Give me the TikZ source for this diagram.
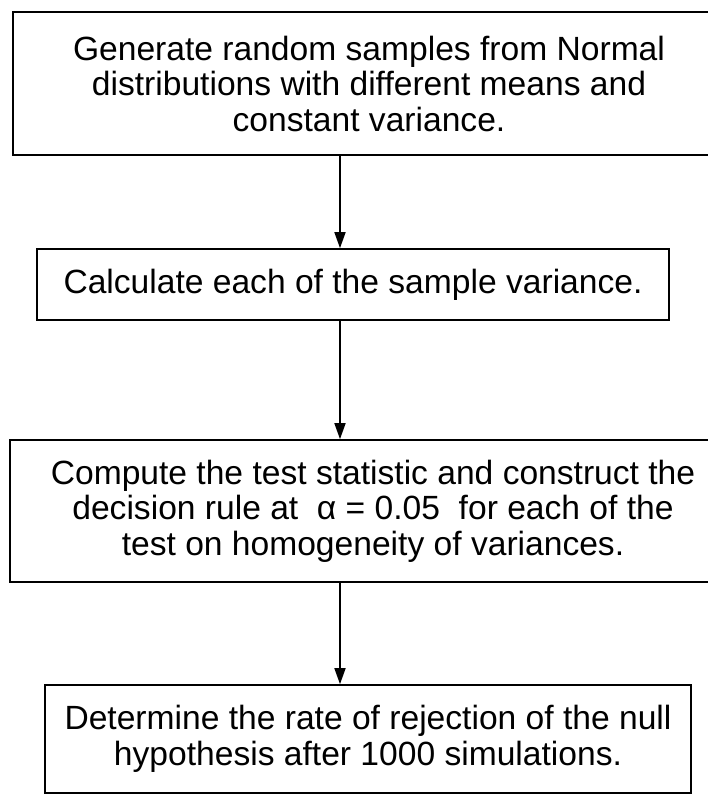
\documentclass[tikz,border=0pt]{standalone}
\usepackage{fontspec}
\setmainfont{Liberation Sans}
\usetikzlibrary{arrows.meta}
\begin{document}
\begin{tikzpicture}[x=1pt,y=1pt,
  stepbox/.style={draw=black, line width=1.6pt, rectangle, align=center, inner sep=0pt,
    font=\fontsize{33.6}{35.5}\selectfont},
  flow/.style={draw=black, line width=1.6pt, -{Triangle[length=16pt,width=11pt]}}]
\useasboundingbox (0,0) rectangle (708,796);
\node[stepbox, minimum width=712pt, minimum height=143pt] (b1) at (369,712.5)
  {Generate random samples from Normal\\distributions with different means and\\constant variance.};
\node[stepbox, minimum width=632pt, minimum height=71pt] (b2) at (353,511.5)
  {Calculate each of the sample variance.};
\node[stepbox, minimum width=726pt, minimum height=142pt] (b3) at (373,285)
  {Compute the test statistic and construct the\\decision rule at \ α = 0.05 \ for each of the\\test on homogeneity of variances.};
\node[stepbox, minimum width=646pt, minimum height=108pt] (b4) at (368,57)
  {Determine the rate of rejection of the null\\hypothesis after 1000 simulations.};
\coordinate (ax) at (340,0);
\draw[flow] (b1.south -| ax) -- (b2.north -| ax);
\draw[flow] (b2.south -| ax) -- (b3.north -| ax);
\draw[flow] (b3.south -| ax) -- (b4.north -| ax);
\end{tikzpicture}
\end{document}
